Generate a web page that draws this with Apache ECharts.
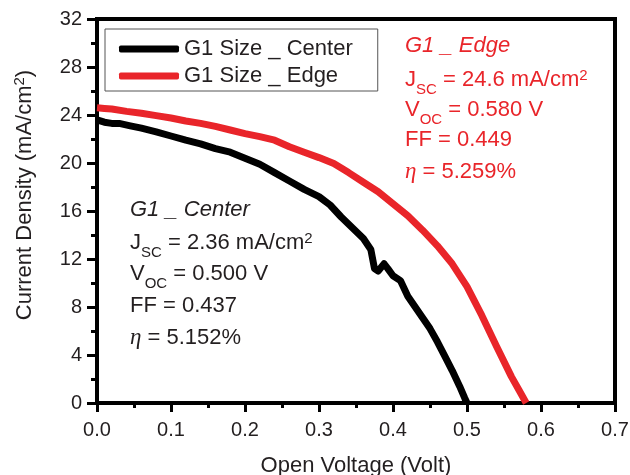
<!DOCTYPE html>
<html>
<head>
<meta charset="utf-8">
<script src="https://cdn.jsdelivr.net/npm/echarts@6/dist/echarts.min.js"></script>
<style>
  html, body { margin: 0; padding: 0; background: #fff; }
  #chart { width: 630px; height: 475px; }
</style>
</head>
<body>
<div id="chart"></div>
<script>
// J-V curves of the two G1 cells (voltage in V, current density in mA/cm2)
const centerVoltage = [0.000, 0.010, 0.020, 0.030, 0.045, 0.060, 0.080, 0.100, 0.120, 0.140,
  0.160, 0.180, 0.200, 0.220, 0.240, 0.260, 0.280, 0.300, 0.315, 0.330, 0.345, 0.360, 0.370,
  0.375, 0.380, 0.388, 0.393, 0.400, 0.410, 0.420, 0.430, 0.440, 0.450, 0.460, 0.470, 0.480,
  0.490, 0.497, 0.500];
const centerCurrent = [23.6, 23.4, 23.3, 23.3, 23.1, 22.9, 22.6, 22.25, 21.9, 21.6,
  21.2, 20.9, 20.4, 19.9, 19.2, 18.5, 17.8, 17.2, 16.5, 15.5, 14.6, 13.7, 12.8,
  11.2, 11.0, 11.6, 11.2, 10.6, 10.2, 8.9, 8.0, 7.1, 6.2, 5.1, 3.9, 2.7,
  1.4, 0.4, 0.0];

const edgeVoltage = [0.000, 0.010, 0.020, 0.040, 0.060, 0.080, 0.100, 0.120, 0.140, 0.160,
  0.180, 0.200, 0.220, 0.240, 0.260, 0.280, 0.300, 0.320, 0.340, 0.360, 0.380, 0.400,
  0.420, 0.440, 0.460, 0.480, 0.500, 0.520, 0.540, 0.560, 0.570, 0.580];
const edgeCurrent = [24.6, 24.55, 24.5, 24.3, 24.15, 23.95, 23.75, 23.5, 23.3, 23.05,
  22.75, 22.45, 22.2, 21.9, 21.35, 20.9, 20.45, 19.95, 19.2, 18.4, 17.6, 16.6,
  15.6, 14.4, 13.1, 11.6, 9.7, 7.3, 4.7, 2.2, 1.1, 0.0];

const seriesNames = ['G1 Size _ Center', 'G1 Size _ Edge'];

// Photovoltaic parameters printed next to each curve
const centerParams = { title: 'G1 _ Center', jsc: '2.36', voc: '0.500', ff: '0.437', eta: '5.152' };
const edgeParams = { title: 'G1 _ Edge', jsc: '24.6', voc: '0.580', ff: '0.449', eta: '5.259' };

const RED = '#e9252a';
const INK = '#231f20';
const SANS = '"Liberation Sans", Arial, sans-serif';
const SERIF = '"Liberation Serif", "Times New Roman", serif';

function pairs(xs, ys) { return xs.map((x, i) => [x, ys[i]]); }

const richBase = (color) => ({
  m: { fontSize: 22, fontFamily: SANS, fill: color, lineHeight: 32 },
  it: { fontSize: 22, fontFamily: SANS, fontStyle: 'italic', fill: color, lineHeight: 32 },
  eta: { fontSize: 23, fontFamily: SERIF, fontStyle: 'italic', fill: color, lineHeight: 32 },
  sub: { fontSize: 15, fontFamily: SANS, fill: color, lineHeight: 12, verticalAlign: 'top', padding: [18, 0, 0, 0] },
  sup: { fontSize: 15, fontFamily: SANS, fill: color, lineHeight: 12, verticalAlign: 'top', padding: [4, 0, 0, 0] }
});

function paramBlock(p, color, x, centers) {
  const lines = [
    '{it|' + p.title + '}',
    '{m|J}{sub|SC}{m| = ' + p.jsc + ' mA/cm}{sup|2}',
    '{m|V}{sub|OC}{m| = ' + p.voc + ' V}',
    '{m|FF = ' + p.ff + '}',
    '{eta|η}{m| = ' + p.eta + '%}'
  ];
  const rich = richBase(color);
  return lines.map((t, i) => ({
    type: 'text',
    x: x,
    y: centers[i] - 16,
    z: 10,
    style: { text: t, rich: rich, verticalAlign: 'top', align: 'left' }
  }));
}

const chart = echarts.init(document.getElementById('chart'), null, { renderer: 'canvas' });

chart.setOption({
  animation: false,
  backgroundColor: '#fff',
  grid: {
    left: 97, right: 15, top: 19, bottom: 72,
    outerBoundsMode: 'none',
    containLabel: false,
    show: true, borderColor: '#000', borderWidth: 4, backgroundColor: 'transparent'
  },
  legend: {
    orient: 'vertical',
    left: 105, top: 29,
    padding: [9, 25, 4, 14],
    itemGap: 5,
    itemWidth: 60, itemHeight: 7,
    icon: 'roundRect',
    borderColor: '#555', borderWidth: 1,
    backgroundColor: '#fff',
    textStyle: { fontSize: 22, fontFamily: SANS, color: INK },
    data: seriesNames
  },
  xAxis: {
    type: 'value', min: 0, max: 0.7, interval: 0.1,
    name: 'Open Voltage (Volt)', nameLocation: 'middle', nameGap: 52,
    nameTextStyle: { fontSize: 22, fontFamily: SANS, color: INK },
    axisLine: { onZero: false, lineStyle: { color: '#000', width: 4 } },
    axisTick: { length: 9, lineStyle: { color: '#000', width: 3 } },
    minorTick: { show: true, splitNumber: 2, length: 5, lineStyle: { color: '#000', width: 3 } },
    axisLabel: { margin: 17, fontSize: 20, fontFamily: SANS, color: INK, formatter: v => v.toFixed(1) },
    splitLine: { show: false }
  },
  yAxis: {
    type: 'value', min: 0, max: 32, interval: 4,
    name: '{m|Current Density (mA/cm}{s|2}{m|)}', nameLocation: 'middle', nameGap: 59,
    nameTextStyle: {
      fontSize: 22, fontFamily: SANS, color: INK, padding: [0, 0, 0, 32],
      rich: {
        m: { fontSize: 22, fontFamily: SANS, color: INK, lineHeight: 26 },
        s: { fontSize: 15, fontFamily: SANS, color: INK, lineHeight: 12, verticalAlign: 'top', padding: [0, 0, 0, 0] }
      }
    },
    axisLine: { onZero: false, lineStyle: { color: '#000', width: 4 } },
    axisTick: { length: 10, lineStyle: { color: '#000', width: 3 } },
    minorTick: { show: true, splitNumber: 2, length: 6, lineStyle: { color: '#000', width: 3 } },
    axisLabel: { margin: 15, fontSize: 20, fontFamily: SANS, color: INK },
    splitLine: { show: false }
  },
  series: [
    {
      name: seriesNames[1], type: 'line', showSymbol: false, z: 3,
      data: pairs(edgeVoltage, edgeCurrent),
      itemStyle: { color: RED },
      lineStyle: { color: RED, width: 7, join: 'round', cap: 'butt' }
    },
    {
      name: seriesNames[0], type: 'line', showSymbol: false, z: 4,
      data: pairs(centerVoltage, centerCurrent),
      itemStyle: { color: '#000' },
      lineStyle: { color: '#000', width: 7, join: 'round', cap: 'butt' }
    }
  ],
  graphic: [].concat(
    paramBlock(edgeParams, RED, 405, [46, 80, 110, 140, 172]),
    paramBlock(centerParams, INK, 130, [210, 243, 274, 306, 338])
  )
});
</script>
</body>
</html>
